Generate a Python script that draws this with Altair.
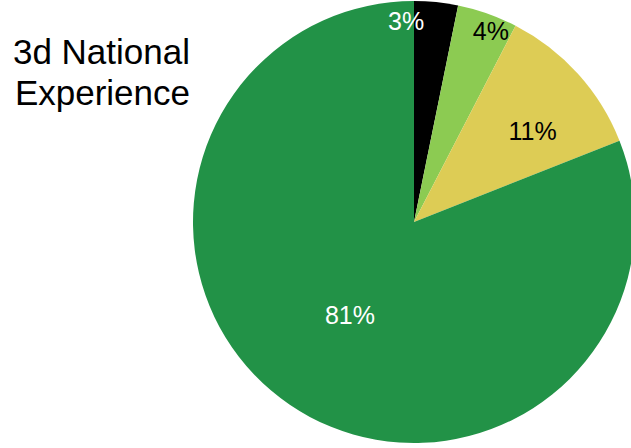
import altair as alt
import pandas as pd

segments = ["Segment A", "Segment B", "Segment C", "Segment D"]
shares = [3.2, 4.4, 11.4, 81.0]
labels = ["3%", "4%", "11%", "81%"]
slice_colors = ["#000000", "#8CCB52", "#DDCC55", "#229247"]
label_colors = ["#FFFFFF", "#000000", "#000000", "#FFFFFF"]
title_lines = ["3d National", "Experience"]

df = pd.DataFrame({
    "segment": segments,
    "share": shares,
    "label": labels,
    "idx": list(range(len(segments))),
})

CX, CY, R = 414, 222, 221
FONT = "Liberation Sans"

arcs = alt.Chart(df).mark_arc(radius=R).encode(
    theta=alt.Theta("share:Q", stack=True),
    order=alt.Order("idx:Q"),
    color=alt.Color("segment:N", scale=alt.Scale(domain=segments, range=slice_colors), legend=None),
    x=alt.value(CX),
    y=alt.value(CY),
)

label_base = alt.Chart(df).transform_joinaggregate(
    total="sum(share)"
).transform_window(
    cum="sum(share)", sort=[alt.SortField("idx")]
).transform_calculate(
    mid="(datum.cum - datum.share / 2) / datum.total * 2 * PI",
    lr="datum.share < 5 ? 201 : (datum.share < 50 ? 149 : 114)",
).encode(
    theta=alt.Theta("mid:Q", scale=None),
    radius=alt.Radius("lr:Q", scale=None),
    text="label:N",
    color=alt.Color("segment:N", scale=alt.Scale(domain=segments, range=label_colors), legend=None),
    x=alt.value(CX),
    y=alt.value(CY),
)

# best-fit style nudges, one layer per label
nudges = {"3%": (-28, 0), "4%": (10, 0), "11%": (8, 10), "81%": (0, 0)}
label_layers = []
for lab in labels:
    ddx, ddy = nudges[lab]
    label_layers.append(
        label_base.transform_filter(alt.datum.label == lab).mark_text(
            font=FONT, fontSize=25, align="center", baseline="middle", dx=ddx, dy=ddy
        )
    )

title = alt.Chart(pd.DataFrame({"a": [0]})).mark_text(
    font=FONT, fontSize=35, align="right", baseline="alphabetic", lineHeight=41, color="#000000"
).encode(
    text=alt.value(title_lines),
    x=alt.value(190),
    y=alt.value(64),
)

chart = alt.layer(arcs, *label_layers, title).resolve_scale(color="independent").properties(
    width=631, height=448, autosize=alt.AutoSizeParams(type="none"), padding=0
).configure_view(stroke=None)

chart.save("out.html", embed_options={"renderer": "svg", "actions": False})
